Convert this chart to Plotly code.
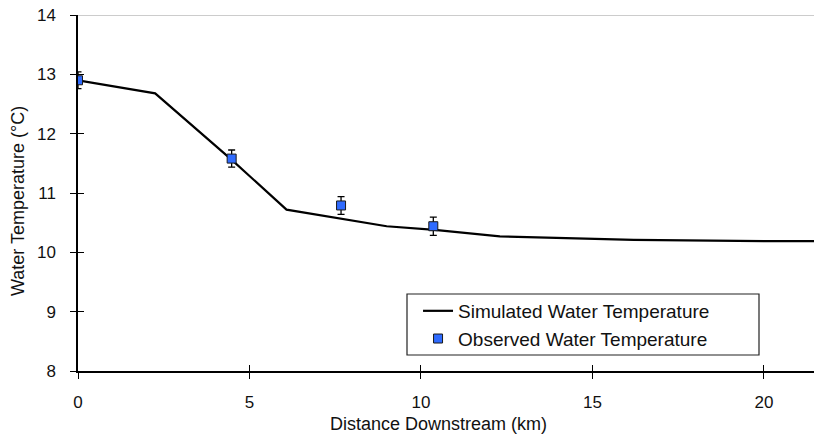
import plotly.graph_objects as go

# Simulated profile
sim_km = [0, 2.25, 4.5, 6.08, 9.0, 10.4, 12.3, 16.2, 20.0, 21.5]
sim_temp = [12.9, 12.68, 11.55, 10.72, 10.44, 10.38, 10.27, 10.21, 10.19, 10.19]

# Observed
obs_km = [0.0, 4.48, 7.67, 10.36]
obs_temp = [12.9, 11.58, 10.79, 10.44]
obs_err = [0.14, 0.145, 0.15, 0.155]

x_ticks = [0, 5, 10, 15, 20]
y_ticks = [8, 9, 10, 11, 12, 13, 14]

x_title = "Distance Downstream (km)"
y_title = "Water Temperature (°C)"

font = "Liberation Sans, Arial, sans-serif"

fig = go.Figure()
fig.add_trace(go.Scatter(x=sim_km, y=sim_temp, mode="lines",
                         line=dict(color="black", width=2.2),
                         name="Simulated Water Temperature"))
fig.add_trace(go.Scatter(x=obs_km, y=obs_temp, mode="markers",
                         marker=dict(symbol="square", size=9, color="#2F6BFF",
                                     line=dict(color="#1a1a1a", width=1)),
                         error_y=dict(type="data", array=obs_err, color="black",
                                      thickness=1.3, width=3.5),
                         name="Observed Water Temperature"))
# transparent trace on overlay axes (used for the inward half of the ticks)
fig.add_trace(go.Scatter(x=[obs_km[0]], y=[obs_temp[0]], xaxis="x2", yaxis="y2",
                         mode="markers", marker=dict(opacity=0),
                         showlegend=False, hoverinfo="skip"))

xr = [0, 21.46]
yr = [8, 14]
fig.update_layout(
    width=814, height=437,
    margin=dict(l=78, r=0, t=15, b=66),
    paper_bgcolor="white", plot_bgcolor="white",
    font=dict(family=font, size=17, color="#111"),
    xaxis=dict(range=xr, tickvals=x_ticks, showgrid=False, zeroline=False,
               showline=True, linecolor="black", linewidth=1.5,
               ticks="outside", ticklen=6, tickwidth=1, tickcolor="black",
               ticklabelstandoff=9),
    yaxis=dict(range=yr, tickvals=y_ticks, showgrid=False, zeroline=False,
               showline=True, linecolor="black", linewidth=1.5,
               ticks="outside", ticklen=6, tickwidth=1, tickcolor="black",
               ticklabelstandoff=11),
    xaxis2=dict(range=xr, tickvals=x_ticks, overlaying="x",
                showticklabels=False, showgrid=False, zeroline=False,
                showline=False,
                ticks="inside", ticklen=6, tickwidth=1, tickcolor="black",
                side="bottom", anchor="y2"),
    yaxis2=dict(range=yr, tickvals=y_ticks, overlaying="y",
                showticklabels=False, showgrid=False, zeroline=False,
                showline=False,
                ticks="inside", ticklen=6, tickwidth=1, tickcolor="black",
                side="left", anchor="x2"),
    legend=dict(x=0.4620, y=0.222, xanchor="left", yanchor="top",
                bgcolor="rgba(0,0,0,0)", borderwidth=0,
                font=dict(size=19), tracegroupgap=0),
    showlegend=True,
)
# legend frame
fig.add_shape(type="rect", xref="paper", yref="paper",
              x0=(407 - 78) / 736, x1=(759 - 78) / 736,
              y0=(371 - 355) / 356, y1=(371 - 294) / 356,
              line=dict(color="#222", width=1.2), fillcolor="white", layer="above")
# top border line at 14
fig.add_shape(type="line", xref="paper", yref="y", x0=0, x1=1, y0=14, y1=14,
              line=dict(color="#999999", width=1.2))
# axis titles
fig.add_annotation(text=x_title, xref="paper", yref="paper",
                   x=(438 - 78) / 736, y=(371 - 424) / 356,
                   xanchor="center", yanchor="middle", showarrow=False,
                   borderpad=0, font=dict(size=18))
fig.add_annotation(text=y_title, xref="paper", yref="paper", textangle=-90,
                   x=(18 - 78) / 736, y=(371 - 201) / 356,
                   xanchor="center", yanchor="middle", showarrow=False,
                   borderpad=0, font=dict(size=18))

fig.write_html("out.html")
